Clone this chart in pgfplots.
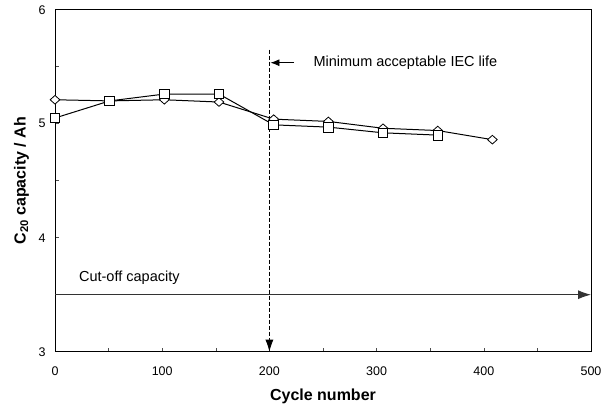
\documentclass[border=0pt]{standalone}
\usepackage{pgfplots}
\pgfplotsset{compat=1.18}
\usepackage{fontspec}
\setmainfont{Liberation Sans}
\usetikzlibrary{arrows.meta,calc}
\begin{document}
\begin{tikzpicture}
\begin{axis}[
  scale only axis, width=536pt, height=342pt,
  xmin=0, xmax=500, ymin=3, ymax=6,
  xtick={0,100,...,500}, minor xtick={50,150,...,450},
  ytick={3,4,5,6}, minor ytick={3.5,4.5,5.5},
  tick align=inside, tick pos=left,
  major tick length=4pt, minor tick length=4pt,
  axis line style={line width=0.9pt},
  tick style={line width=0.6pt, black!70},
  /pgf/number format/assume math mode=true,
  tick label style={font=\fontsize{12.5}{15}\selectfont},
  xticklabel style={yshift=-12pt},
  yticklabel style={xshift=-6pt},
  xlabel={\textbf{Cycle number}},
  ylabel={\textbf{C\textsubscript{20} capacity / Ah}},
  xlabel style={font=\fontsize{16}{19}\selectfont, at={(rel axis cs:0.5,0)}, anchor=base, yshift=-49pt},
  ylabel style={font=\fontsize{16}{19}\selectfont, at={($(rel axis cs:0,0.5)+(-29.5pt,0)$)}, anchor=base, rotate=0},
  clip=false,
]
\addplot[black, line width=1pt, mark=diamond*, mark size=4.8pt, mark options={fill=white, line width=0.8pt, xscale=1.35, yscale=0.9}]
  coordinates {(0,5.21) (51,5.20) (102,5.21) (153,5.19) (204,5.04) (255,5.02) (306,4.96) (357,4.94) (408,4.86)};
\addplot[black, line width=1pt, mark=square*, mark size=4.8pt, mark options={fill=white, line width=0.8pt}]
  coordinates {(0,5.05) (51,5.20) (102,5.26) (153,5.26) (204,4.99) (255,4.97) (306,4.92) (357,4.90)};
\draw[black, line width=0.8pt, dash pattern=on 4pt off 2pt, -{Latex[length=12pt,width=8pt]}] (axis cs:200,5.65) -- (axis cs:200,3);
\draw[black, line width=0.8pt, -{Latex[length=9pt,width=7pt]}] (axis cs:223,5.535) -- (axis cs:201,5.535);
\node[anchor=west, inner sep=0pt, font=\fontsize{14.5}{17}\selectfont] at (axis cs:241,5.535) {Minimum acceptable IEC life};
\draw[black!80, line width=0.9pt, -{Latex[length=13pt,width=9pt]}] (axis cs:0,3.5) -- (axis cs:500,3.5);
\node[anchor=west, inner sep=0pt, font=\fontsize{14.5}{17}\selectfont] at (axis cs:22.3,3.647) {Cut-off capacity};
\end{axis}
\pgfresetboundingbox
\path[use as bounding box] ([shift={(-55pt,-56.3pt)}]current axis.south west) rectangle ([shift={(20pt,9.7pt)}]current axis.north east);
\end{tikzpicture}
\end{document}
